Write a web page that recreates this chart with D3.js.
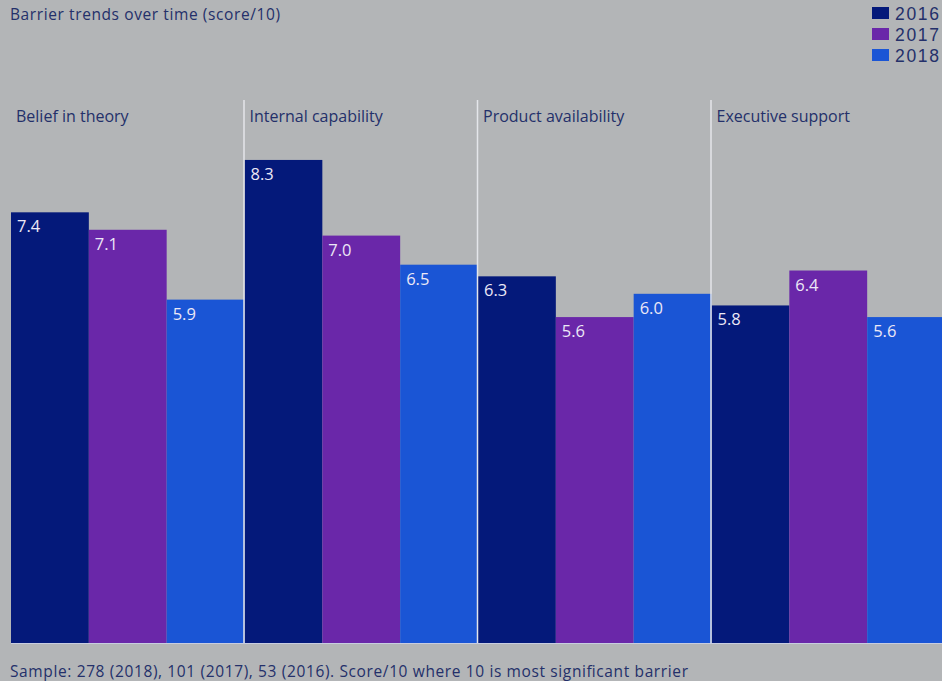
<!DOCTYPE html>
<html>
<head>
<meta charset="utf-8">
<script src="https://cdn.jsdelivr.net/npm/d3@7"></script>
<style>
  html, body { margin: 0; padding: 0; background: #b3b5b7; }
  svg { display: block; }
  text { font-family: "Open Sans", Lato, sans-serif; }
  .legend-label { font-family: "Liberation Sans", Arial, sans-serif; }
</style>
</head>
<body>
<svg id="chart" width="942" height="681"></svg>
<script>
// Barrier categories and yearly scores (out of 10)
const categories = ["Belief in theory", "Internal capability", "Product availability", "Executive support"];
const years = ["2016", "2017", "2018"];
const scores2016 = [7.4, 8.3, 6.3, 5.8];
const scores2017 = [7.1, 7.0, 5.6, 6.4];
const scores2018 = [5.9, 6.5, 6.0, 5.6];
const yearColors = ["#04197a", "#6a27a9", "#1a55d5"];

const title = "Barrier trends over time (score/10)";
const footnote = "Sample: 278 (2018), 101 (2017), 53 (2016). Score/10 where 10 is most significant barrier";

const seriesByYear = [scores2016, scores2017, scores2018];
const rows = categories.map((c, i) => ({
  category: c,
  values: years.map((y, j) => ({ year: y, value: seriesByYear[j][i] }))
}));

const svg = d3.select("#chart");
const W = 942, H = 681;
const baseline = 643;

const x0 = d3.scaleBand().domain(categories).range([11, 945]).paddingInner(0);
const x1 = d3.scaleBand().domain(years).range([0, x0.bandwidth()]).padding(0);
const y = d3.scaleLinear().domain([0, 10]).range([baseline, 61]);
const color = d3.scaleOrdinal().domain(years).range(yearColors);

const textColor = "#24306a";

// Title
svg.append("text")
  .attr("x", 10).attr("y", 20)
  .attr("font-size", 15.5)
  .attr("fill", textColor)
  .attr("textLength", 270)
  .text(title);

// Legend
const legend = svg.append("g").selectAll("g").data(years).join("g")
  .attr("transform", (d, i) => `translate(872, ${7 + i * 21})`);
legend.append("rect").attr("width", 17).attr("height", 12).attr("fill", d => color(d));
legend.append("text")
  .attr("class", "legend-label")
  .attr("x", 23).attr("y", 13)
  .attr("font-size", 17.5)
  .attr("textLength", 44)
  .attr("fill", textColor)
  .text(d => d);

// Groups
const groups = svg.append("g").selectAll("g").data(rows).join("g")
  .attr("transform", d => `translate(${x0(d.category)},0)`);

groups.selectAll("rect").data(d => d.values).join("rect")
  .attr("x", d => x1(d.year))
  .attr("y", d => y(d.value))
  .attr("width", x1.bandwidth())
  .attr("height", d => baseline - y(d.value))
  .attr("fill", d => color(d.year));

groups.selectAll("text.val").data(d => d.values).join("text")
  .attr("class", "val")
  .attr("x", d => x1(d.year) + 6)
  .attr("y", d => y(d.value) + 20)
  .attr("font-size", 16.5)
  .attr("fill", "#ece8f6")
  .text(d => d3.format(".1f")(d.value));

// Category labels
groups.append("text")
  .attr("x", 5).attr("y", 122)
  .attr("font-size", 16)
  .attr("fill", textColor)
  .text(d => d.category);

// Separators between categories
svg.append("g").selectAll("line").data(categories.slice(1)).join("line")
  .attr("x1", d => x0(d) - 0.5).attr("x2", d => x0(d) - 0.5)
  .attr("y1", 100).attr("y2", baseline)
  .attr("stroke", "#e4e6ea").attr("stroke-width", 1.5);

// Baseline
svg.append("line")
  .attr("x1", 11).attr("x2", W)
  .attr("y1", baseline + 0.5).attr("y2", baseline + 0.5)
  .attr("stroke", "#c8cde0").attr("stroke-width", 1);

// Footnote
svg.append("text")
  .attr("x", 10).attr("y", 677)
  .attr("font-size", 15.5)
  .attr("fill", textColor)
  .attr("textLength", 678)
  .text(footnote);
</script>
</body>
</html>
